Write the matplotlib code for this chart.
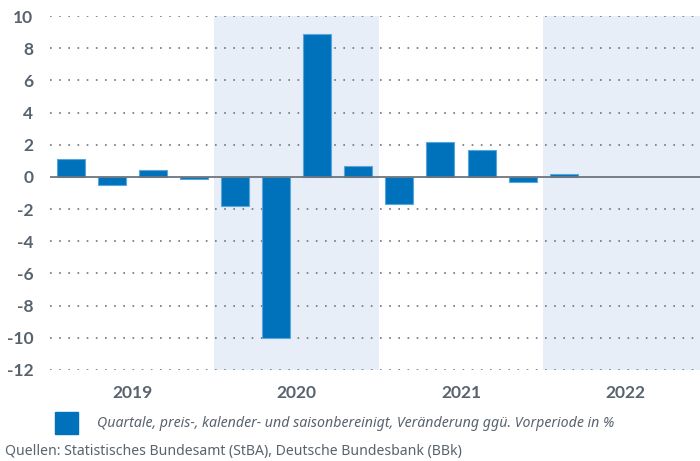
import numpy as np
import matplotlib
matplotlib.use("Agg")
from matplotlib import pyplot as plt
from matplotlib.patches import Rectangle

# Daten
years = ["2019", "2020", "2021", "2022"]
quarters = ["2019Q1", "2019Q2", "2019Q3", "2019Q4",
            "2020Q1", "2020Q2", "2020Q3", "2020Q4",
            "2021Q1", "2021Q2", "2021Q3", "2021Q4",
            "2022Q1", "2022Q2", "2022Q3", "2022Q4"]
values = [1.1, -0.5, 0.4, -0.1,
          -1.8, -10.0, 8.9, 0.7,
          -1.7, 2.2, 1.7, -0.3,
          0.2, np.nan, np.nan, np.nan]
shaded_years = ["2020", "2022"]
y_ticks = [10, 8, 6, 4, 2, 0, -2, -4, -6, -8, -10, -12]

legend_text = "Quartale, preis-, kalender- und saisonbereinigt, Veränderung ggü. Vorperiode in %"
source_text = "Quellen: Statistisches Bundesamt (StBA), Deutsche Bundesbank (BBk)"

bar_color = "#0072bc"
edge_color = "#5aa6dc"
band_color = "#e8eef8"
text_color = "#58636e"
grid_color = "#6b7680"
bold_family = ['Lato', 'DejaVu Sans']

plt.rcParams['font.family'] = ['Noto Sans', 'DejaVu Sans']

fig = plt.figure(figsize=(7.0, 4.61), dpi=100)
ax = fig.add_axes([50 / 700, 1 - 370 / 461, 650 / 700, (370 - 16) / 461])

x = np.arange(len(quarters))
# Diagramm läuft rechts etwas über den Rand hinaus
ax.set_xlim(-0.5, 650 / 41.1 - 0.5)
ax.set_ylim(-12, 10)

# Hintergrundbänder
for i, yr in enumerate(years):
    if yr in shaded_years:
        ax.axvspan(i * 4 - 0.5, i * 4 + 3.5, color=band_color, zorder=0, lw=0)

# Gitterlinien
for t in y_ticks:
    if t != 0:
        ax.axhline(t, color=grid_color, lw=1.2, linestyle=(0, (1, 4.5)), zorder=1)

ax.bar(x, values, width=0.68, color=bar_color, edgecolor=edge_color,
       linewidth=0.8, zorder=3)
ax.axhline(0, color="#6d757d", lw=1.3, zorder=4)

for s in ax.spines.values():
    s.set_visible(False)
ax.set_xticks([])
ax.set_yticks(y_ticks)
ax.set_yticklabels([str(t) for t in y_ticks], fontsize=12.5, fontweight="bold",
                   color=text_color, family=bold_family)
ax.tick_params(axis="y", length=0, pad=12)

# Jahresbeschriftungen
for i, yr in enumerate(years):
    ax.text(i * 4 + 1.5, -13.4, yr, ha="center", va="center", fontsize=12.5,
            fontweight="bold", color=text_color, family=bold_family)

# Legende
fig.patches.append(Rectangle((55 / 700, 1 - 434 / 461), 23 / 700, 22 / 461,
                             transform=fig.transFigure, color=bar_color))
fig.text(97 / 700, 1 - 423 / 461, legend_text, ha="left", va="center",
         fontsize=10.2, style="italic", color=text_color)
fig.text(5 / 700, 1 - 451 / 461, source_text, ha="left", va="center",
         fontsize=10.1, color=text_color)

fig.savefig("out.png", dpi=100)
